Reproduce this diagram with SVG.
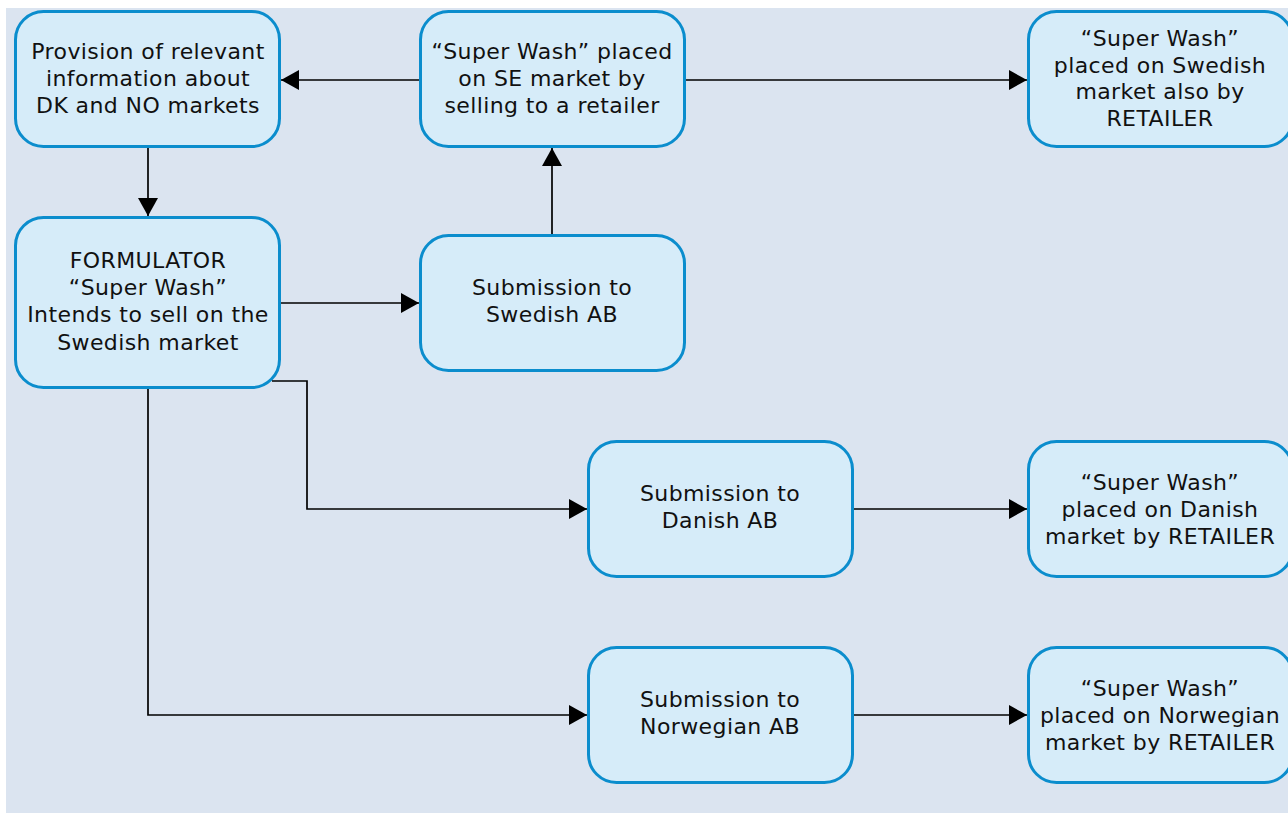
<svg xmlns="http://www.w3.org/2000/svg" width="1288" height="813" viewBox="0 0 1288 813">
<style>
.box{fill:#d6ecf9;stroke:#0b8dcd;stroke-width:3}
.t{font-family:"DejaVu Sans",Verdana,sans-serif;font-size:22px;fill:#111;text-anchor:middle;letter-spacing:0.4px}
.c{fill:none;stroke:#000;stroke-width:1.7;marker-end:url(#ah)}
</style>
<defs>
<marker id="ah" markerUnits="userSpaceOnUse" markerWidth="18" markerHeight="20" refX="18" refY="10" orient="auto" viewBox="0 0 18 20">
<path d="M0,0 L18,10 L0,20 z" fill="#000"/>
</marker>
</defs>
<rect x="6" y="8" width="1282" height="805" fill="#dbe4f0"/>
<g id="nodeA">
<rect class="box" x="15.5" y="11.5" width="264" height="135" rx="28"/>
<text class="t"><tspan x="148" y="59">Provision of relevant</tspan><tspan x="148" y="86">information about</tspan><tspan x="148" y="113">DK and NO markets</tspan></text>
</g>
<g id="nodeB">
<rect class="box" x="420.5" y="11.5" width="264" height="135" rx="28"/>
<text class="t"><tspan x="552" y="59">“Super Wash” placed</tspan><tspan x="552" y="86">on SE market by</tspan><tspan x="552" y="113">selling to a retailer</tspan></text>
</g>
<g id="nodeC">
<rect class="box" x="1028.5" y="11.5" width="264" height="135" rx="28"/>
<text class="t"><tspan x="1160" y="46">“Super Wash”</tspan><tspan x="1160" y="72.7">placed on Swedish</tspan><tspan x="1160" y="99.4">market also by</tspan><tspan x="1160" y="126">RETAILER</tspan></text>
</g>
<g id="nodeD">
<rect class="box" x="15.5" y="217.5" width="264" height="170" rx="28"/>
<text class="t"><tspan x="148" y="268">FORMULATOR</tspan><tspan x="148" y="295">“Super Wash”</tspan><tspan x="148" y="322">Intends to sell on the</tspan><tspan x="148" y="349.5">Swedish market</tspan></text>
</g>
<g id="nodeE">
<rect class="box" x="420.5" y="235.5" width="264" height="135" rx="28"/>
<text class="t"><tspan x="552" y="295">Submission to</tspan><tspan x="552" y="322">Swedish AB</tspan></text>
</g>
<g id="nodeF">
<rect class="box" x="588.5" y="441.5" width="264" height="135" rx="28"/>
<text class="t"><tspan x="720" y="501">Submission to</tspan><tspan x="720" y="528">Danish AB</tspan></text>
</g>
<g id="nodeG">
<rect class="box" x="1028.5" y="441.5" width="264" height="135" rx="28"/>
<text class="t"><tspan x="1160" y="490">“Super Wash”</tspan><tspan x="1160" y="517">placed on Danish</tspan><tspan x="1160" y="543.5">market by RETAILER</tspan></text>
</g>
<g id="nodeH">
<rect class="box" x="588.5" y="647.5" width="264" height="135" rx="28"/>
<text class="t"><tspan x="720" y="707">Submission to</tspan><tspan x="720" y="734">Norwegian AB</tspan></text>
</g>
<g id="nodeI">
<rect class="box" x="1028.5" y="647.5" width="264" height="135" rx="28"/>
<text class="t"><tspan x="1160" y="696">“Super Wash”</tspan><tspan x="1160" y="723">placed on Norwegian</tspan><tspan x="1160" y="749.5">market by RETAILER</tspan></text>
</g>
<g id="connectors">
<path class="c" d="M419,80 L281,80"/>
<path class="c" d="M686,80 L1027,80"/>
<path class="c" d="M148,148 L148,216"/>
<path class="c" d="M552,234 L552,148"/>
<path class="c" d="M281,303 L419,303"/>
<path class="c" d="M272,381 L307,381 L307,509 L587,509"/>
<path class="c" d="M148,389 L148,715 L587,715"/>
<path class="c" d="M854,509 L1027,509"/>
<path class="c" d="M854,715 L1027,715"/>
</g>
</svg>
